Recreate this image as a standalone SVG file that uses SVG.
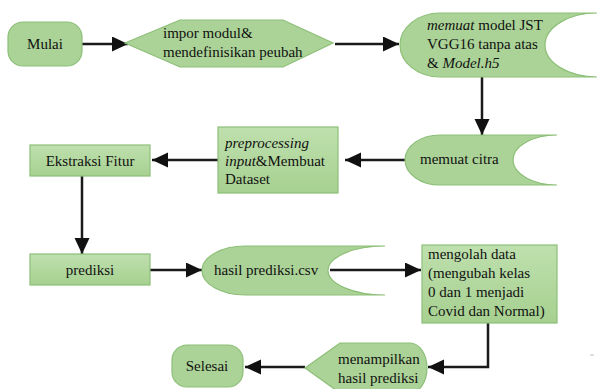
<svg xmlns="http://www.w3.org/2000/svg" width="597" height="389" viewBox="0 0 597 389">
<style>
.n{fill:#abd397;stroke:#8dbf78;stroke-width:1.2}
.t{font-family:"Liberation Serif","Times New Roman",serif;font-size:15px;fill:#111}
.c{stroke:#1a1a1a;stroke-width:2.5;fill:none}
</style>
<defs>
<linearGradient id="g" x1="0" y1="0" x2="0" y2="1"><stop offset="0" stop-color="#bfe0ae"/><stop offset="1" stop-color="#a6d090"/></linearGradient>
<marker id="a" markerUnits="userSpaceOnUse" markerWidth="17" markerHeight="16" refX="16" refY="7.5" orient="auto"><path d="M0,0 L16,7.5 L0,15 Z" fill="#111"/></marker>
</defs>
<rect width="597" height="389" fill="#fff"/>
<g id="connectors">
<path class="c" d="M82,44 H128" marker-end="url(#a)"/>
<path class="c" d="M335,44 H399" marker-end="url(#a)"/>
<path class="c" d="M482,77 V135" marker-end="url(#a)"/>
<path class="c" d="M405,160 H345" marker-end="url(#a)"/>
<path class="c" d="M218,160 H152" marker-end="url(#a)"/>
<path class="c" d="M82,176 V254" marker-end="url(#a)"/>
<path class="c" d="M150,270 H202" marker-end="url(#a)"/>
<path class="c" d="M330,270 H421" marker-end="url(#a)"/>
<path class="c" d="M488,323 V367 H428" marker-end="url(#a)"/>
<path class="c" d="M305,367 H245" marker-end="url(#a)"/>
</g>
<g id="mulai">
<rect class="n" x="8" y="22" width="74" height="44" rx="15"/>
<text class="t" x="45" y="49" text-anchor="middle">Mulai</text>
</g>
<g id="impor">
<polygon class="n" points="125,43 180,20 283,20 333,43 283,67 180,67"/>
<text class="t" x="163" y="38">impor modul&amp;</text>
<text class="t" x="163" y="57">mendefinisikan peubah</text>
</g>
<g id="memuatmodel">
<path class="n" d="M597,13 L440,13 A40,32 0 0 0 440,77 L597,77 A52,32 0 0 1 597,13 Z"/>
<text class="t" x="427" y="30"><tspan font-style="italic">memuat</tspan> model JST</text>
<text class="t" x="427" y="49">VGG16 tanpa atas</text>
<text class="t" x="427" y="68">&amp; <tspan font-style="italic">Model.h5</tspan></text>
</g>
<g id="memuatcitra">
<path class="n" d="M557,135 L440,135 A35,25 0 0 0 440,185 L557,185 A44,25 0 0 1 557,135 Z"/>
<text class="t" x="420" y="164">memuat citra</text>
</g>
<g id="preprocessing">
<rect class="n" x="218" y="127" width="120" height="66" fill="url(#g)" style="fill:url(#g)"/>
<text class="t" x="225" y="148" font-style="italic">preprocessing</text>
<text class="t" x="225" y="166"><tspan font-style="italic">input</tspan>&amp;Membuat</text>
<text class="t" x="225" y="184">Dataset</text>
</g>
<g id="ekstraksi">
<rect class="n" x="30" y="145" width="120" height="31" style="fill:url(#g)"/>
<text class="t" x="90" y="166" text-anchor="middle">Ekstraksi Fitur</text>
</g>
<g id="prediksi">
<rect class="n" x="30" y="254" width="120" height="31" style="fill:url(#g)"/>
<text class="t" x="90" y="275" text-anchor="middle">prediksi</text>
</g>
<g id="hasil">
<path class="n" d="M385,246 L245,246 A43,24.5 0 0 0 245,295 L385,295 A57,24.5 0 0 1 385,246 Z"/>
<text class="t" x="214" y="275">hasil prediksi.csv</text>
</g>
<g id="mengolah">
<rect class="n" x="422" y="245" width="135" height="78" style="fill:url(#g)"/>
<text class="t" x="428" y="259">mengolah data</text>
<text class="t" x="428" y="278">(mengubah kelas</text>
<text class="t" x="428" y="297">0 dan 1 menjadi</text>
<text class="t" x="428" y="316">Covid dan Normal)</text>
</g>
<g id="menampilkan">
<path class="n" d="M305,368 L340,343 L410,343 A17,25 0 0 1 410,393 L340,393 Z"/>
<text class="t" x="338" y="364">menampilkan</text>
<text class="t" x="338" y="383">hasil prediksi</text>
</g>
<g id="selesai">
<rect class="n" x="172" y="345" width="71" height="42" rx="15"/>
<text class="t" x="207" y="371" text-anchor="middle">Selesai</text>
</g>
<line x1="590" y1="355" x2="594" y2="355" stroke="#bbb" stroke-width="1"/>
</svg>
